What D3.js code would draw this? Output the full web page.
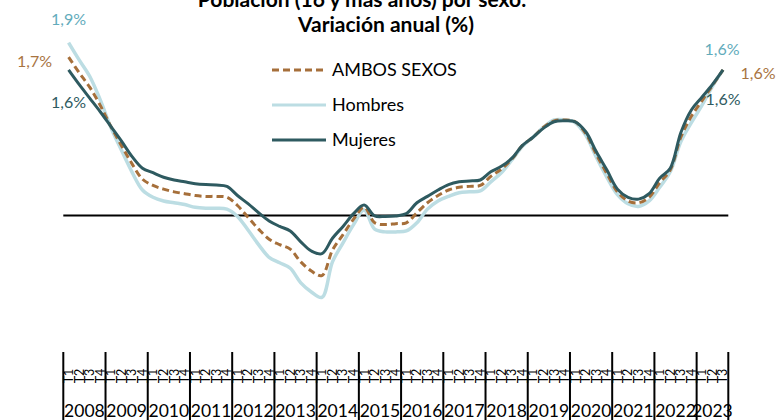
<!DOCTYPE html>
<html>
<head>
<meta charset="utf-8">
<script src="https://cdn.jsdelivr.net/npm/d3@7"></script>
<style>
body { margin: 0; background: #fff; }
svg { display: block; font-family: Lato, "Open Sans", sans-serif; }
</style>
</head>
<body>
<script>
var width = 776
var height = 420

var years = [2008, 2009, 2010, 2011, 2012, 2013, 2014, 2015, 2016, 2017, 2018, 2019, 2020, 2021, 2022, 2023]
var quarters = ["T1", "T2", "T3", "T4"]
var last_year_quarters = 3

var ambos = [1.74, 1.57, 1.41, 1.21, 0.98, 0.77, 0.57, 0.40, 0.33, 0.29, 0.26, 0.24, 0.22, 0.21, 0.21, 0.20,
  0.11, -0.02, -0.15, -0.26, -0.32, -0.37, -0.51, -0.61, -0.66, -0.38, -0.21, -0.04, 0.09, -0.08, -0.10, -0.09,
  -0.08, 0.03, 0.14, 0.22, 0.28, 0.31, 0.32, 0.33, 0.43, 0.51, 0.62, 0.77, 0.86, 0.97, 1.04, 1.05,
  1.03, 0.90, 0.67, 0.46, 0.26, 0.16, 0.14, 0.20, 0.36, 0.50, 0.86, 1.09, 1.26, 1.43, 1.60]
var hombres = [1.90, 1.71, 1.53, 1.27, 0.97, 0.72, 0.48, 0.28, 0.20, 0.16, 0.14, 0.12, 0.09, 0.08, 0.08, 0.07,
  -0.01, -0.16, -0.32, -0.46, -0.52, -0.58, -0.74, -0.84, -0.90, -0.51, -0.30, -0.10, 0.06, -0.15, -0.18, -0.18,
  -0.17, -0.08, 0.07, 0.16, 0.21, 0.25, 0.26, 0.27, 0.37, 0.47, 0.61, 0.76, 0.86, 0.97, 1.05, 1.05,
  1.02, 0.88, 0.64, 0.42, 0.23, 0.13, 0.10, 0.16, 0.31, 0.48, 0.81, 1.02, 1.21, 1.42, 1.60]
var mujeres = [1.60, 1.44, 1.29, 1.14, 0.98, 0.82, 0.65, 0.52, 0.47, 0.42, 0.39, 0.37, 0.35, 0.34, 0.335, 0.32,
  0.22, 0.13, 0.03, -0.06, -0.12, -0.17, -0.29, -0.39, -0.42, -0.25, -0.12, 0.02, 0.115, -0.005, -0.01, -0.005,
  0.02, 0.14, 0.21, 0.28, 0.34, 0.37, 0.38, 0.39, 0.48, 0.54, 0.63, 0.77, 0.86, 0.96, 1.03, 1.04,
  1.03, 0.92, 0.70, 0.50, 0.29, 0.20, 0.18, 0.24, 0.41, 0.52, 0.91, 1.16, 1.30, 1.44, 1.60]

var series_names = ["AMBOS SEXOS", "Hombres", "Mujeres"]
var title_lines = ["Población (16 y más años) por sexo.", "Variación anual (%)"]

// categories: one per quarter, 2023 only has three
var categories = []
years.forEach(function(yr, i) {
  var n = (i == years.length - 1) ? last_year_quarters : quarters.length
  for (var q = 0; q < n; q++) categories.push({ year: yr, q: quarters[q], id: yr + quarters[q] })
})

var svg = d3.select("body").append("svg")
  .attr("width", width)
  .attr("height", height)

var x = d3.scaleBand()
  .domain(categories.map(function(d) { return d.id }))
  .range([63.3, 728.3])
  .paddingInner(0).paddingOuter(0)

var y = d3.scaleLinear()
  .domain([-1.5, 2])
  .range([352, 33.5])

var bw = x.bandwidth()
function cx(i) { return x(categories[i].id) + bw / 2 }

// zero line
svg.append("line")
  .attr("x1", x.range()[0]).attr("x2", x.range()[1])
  .attr("y1", y(0)).attr("y2", y(0))
  .attr("stroke", "#000").attr("stroke-width", 2)

var line = d3.line()
  .x(function(d, i) { return cx(i) })
  .y(function(d) { return y(d) })
  .curve(d3.curveCatmullRom)

var styles = {
  "AMBOS SEXOS": { color: "#a66f3a", width: 3, dash: "7,4", label: "#a8743f" },
  "Hombres": { color: "#bcdde3", width: 3.5, dash: null, label: "#62abbb" },
  "Mujeres": { color: "#2e5a60", width: 3, dash: null, label: "#2e5a60" }
}
var values = { "AMBOS SEXOS": ambos, "Hombres": hombres, "Mujeres": mujeres }

var draw_order = ["Hombres", "AMBOS SEXOS", "Mujeres"]
draw_order.forEach(function(name) {
  svg.append("path")
    .datum(values[name])
    .attr("d", line)
    .attr("fill", "none")
    .attr("stroke", styles[name].color)
    .attr("stroke-width", styles[name].width)
    .attr("stroke-dasharray", styles[name].dash)
    .attr("stroke-linejoin", "round")
})

// first / last value labels
var fmt = function(v) { return d3.format(".1f")(v).replace(".", ",") + "%" }
var label_offsets = {
  "AMBOS SEXOS": { start: [-34, 10], end: [35, 9] },
  "Hombres": { start: [0, -18], end: [-1, -15] },
  "Mujeres": { start: [0, 38], end: [0, 35] }
}
series_names.forEach(function(name) {
  var v = values[name]
  var n = v.length - 1
  svg.append("text")
    .attr("x", cx(0) + label_offsets[name].start[0])
    .attr("y", y(v[0]) + label_offsets[name].start[1])
    .attr("text-anchor", "middle")
    .style("font-size", "16px")
    .style("fill", styles[name].label)
    .text(fmt(v[0]))
  svg.append("text")
    .attr("x", cx(n) + label_offsets[name].end[0])
    .attr("y", y(v[n]) + label_offsets[name].end[1])
    .attr("text-anchor", "middle")
    .style("font-size", "16px")
    .style("fill", styles[name].label)
    .text(fmt(v[n]))
})

// title (first line is cut by the top edge, as in the original)
svg.selectAll(".title")
  .data(title_lines)
  .enter().append("text")
  .attr("class", "title")
  .attr("x", function(d, i) { return i == 0 ? 362 : 386 })
  .attr("y", function(d, i) { return 7 + i * 25 })
  .attr("text-anchor", "middle")
  .style("font-size", "21px")
  .style("font-weight", "bold")
  .style("fill", "#000")
  .text(function(d) { return d })

// legend
var legend = svg.append("g").attr("transform", "translate(272,70)")
series_names.forEach(function(name, i) {
  var g = legend.append("g").attr("transform", "translate(0," + (i * 35) + ")")
  g.append("line")
    .attr("x1", 0).attr("x2", 54).attr("y1", 0).attr("y2", 0)
    .attr("stroke", styles[name].color)
    .attr("stroke-width", 3)
    .attr("stroke-dasharray", styles[name].dash)
  g.append("text")
    .attr("x", 60).attr("y", 0).attr("dy", "0.35em")
    .style("font-size", "18px")
    .style("fill", "#000")
    .text(name)
})

// category axis: quarter labels, year separators, year labels
var axis = svg.append("g")

axis.selectAll(".q")
  .data(categories)
  .enter().append("text")
  .attr("class", "q")
  .attr("transform", function(d) { return "translate(" + (x(d.id) + bw / 2) + ",376) rotate(-90)" })
  .attr("text-anchor", "middle")
  .attr("dy", "0.35em")
  .style("font-size", "12.5px")
  .style("fill", "#000")
  .text(function(d) { return d.q })

var year_bounds = years.map(function(yr) {
  var ids = categories.filter(function(c) { return c.year == yr })
  return { year: yr, x0: x(ids[0].id), x1: x(ids[ids.length - 1].id) + bw }
})

axis.selectAll(".sep")
  .data([year_bounds[0].x0].concat(year_bounds.map(function(d) { return d.x1 })))
  .enter().append("line")
  .attr("x1", function(d) { return d }).attr("x2", function(d) { return d })
  .attr("y1", y(-1.5)).attr("y2", height)
  .attr("stroke", "#000").attr("stroke-width", 2)

axis.selectAll(".yr")
  .data(year_bounds)
  .enter().append("text")
  .attr("class", "yr")
  .attr("x", function(d) { return (d.x0 + d.x1) / 2 })
  .attr("y", 417)
  .attr("text-anchor", "middle")
  .style("font-size", "17.5px")
  .style("fill", "#000")
  .text(function(d) { return d.year })
</script>
</body>
</html>
